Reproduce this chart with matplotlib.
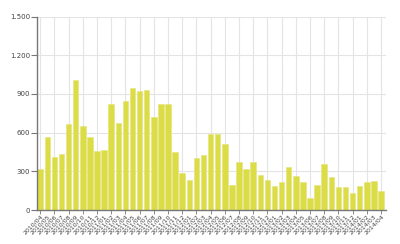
import matplotlib
matplotlib.use('Agg')
import matplotlib.pyplot as plt

months = []
for y in range(2010, 2015):
    for m in range(1, 13):
        if (y == 2010 and m < 4) or (y == 2014 and m > 4):
            continue
        months.append('%d/%02d' % (y, m))

values = [320, 570, 410, 438, 670, 1010, 650, 565, 455, 465,
          825, 675, 845, 945, 925, 930, 720, 825, 820, 450,
          290, 235, 400, 425, 590, 590, 515, 195, 375, 320,
          370, 275, 230, 190, 215, 335, 265, 220, 95, 195,
          360, 260, 180, 180, 135, 185, 220, 225, 150]

yticks = [0, 300, 600, 900, 1200, 1500]
ytick_labels = ['0', '300', '600', '900', '1.200', '1.500']

fig = plt.figure(figsize=(4, 2.44), dpi=100)
ax = fig.add_axes([0.0925, 0.139, 0.8725, 0.793])

x = list(range(len(values)))
ax.bar(x, values, width=0.78, color='#dcdc46', edgecolor='#e4e47a', linewidth=0.4, zorder=2)

ax.set_ylim(0, 1500)
ax.set_xlim(-0.45, len(values) - 0.3)
ax.set_yticks(yticks)
ax.set_yticklabels(ytick_labels, fontsize=5, color='#444444')

# label every month, grid line every other month
ax.set_xticks(x)
ax.set_xticklabels(months, rotation=45, ha='right', rotation_mode='anchor',
                   fontsize=4.5, color='#444444')
ax.set_xticks(x[::2], minor=True)
ax.xaxis.remove_overlapping_locs = False
ax.tick_params(axis='x', which='major', length=0, pad=2.5)
ax.tick_params(axis='x', which='minor', length=3, color='#777777')
ax.tick_params(axis='y', length=4, color='#777777', pad=1)

ax.grid(True, axis='y', which='major', color='#e4e4e4', linewidth=0.8, zorder=0)
ax.grid(True, axis='x', which='minor', color='#e4e4e4', linewidth=0.8, zorder=0)
ax.set_axisbelow(True)

for s in ['top', 'right']:
    ax.spines[s].set_visible(False)
for s in ['left', 'bottom']:
    ax.spines[s].set_color('#777777')
    ax.spines[s].set_linewidth(1)

fig.savefig('out.png', dpi=100)
